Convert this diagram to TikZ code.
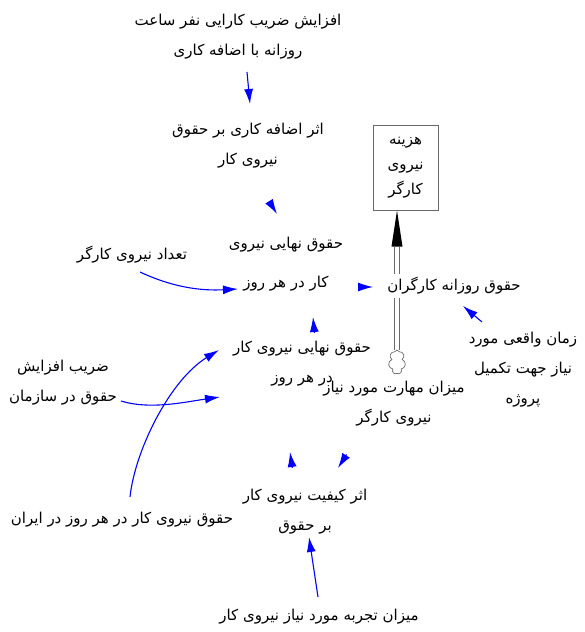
\documentclass[tikz,border=0pt]{standalone}
\usepackage{fontspec}
\newfontfamily\arabicfont[Script=Arabic]{DejaVu Sans}
\TeXXeTstate=1
\usetikzlibrary{arrows.meta,calc,shapes.symbols}
\newcommand\rl[1]{\beginR #1\endR}
\definecolor{vblue}{RGB}{0,0,255}
\definecolor{pipegray}{RGB}{105,105,105}
\begin{document}
\begin{tikzpicture}[x=1pt,y=1pt,
  lbl/.style={font={\arabicfont\fontsize{15}{30}\selectfont}, align=center, inner sep=1pt},
  lblwide/.style={font={\arabicfont\fontsize{15}{39}\selectfont}, align=center, inner sep=1pt},
  lblbox/.style={font={\arabicfont\fontsize{15}{25}\selectfont}, align=center, inner sep=1pt},
  bl/.style={draw=vblue, line width=1.1pt, -{Latex[length=15pt,width=9pt]}},
  stockbox/.style={draw=pipegray, line width=1pt, minimum width=65pt, minimum height=85pt, inner sep=0pt},
  pipeline/.style={draw=pipegray, line width=0.8pt},
  cloudsrc/.style={cloud, draw=pipegray, cloud puffs=7, aspect=0.75, minimum width=17pt, minimum height=24pt, inner sep=0pt, line width=0.7pt}
]
\useasboundingbox (0,0) rectangle (584,-632);

% variables
\node[lbl] (top) at (238,-37) {\rl{افزایش ضریب کارایی نفر ساعت}\\\rl{روزانه با اضافه کاری}};
\node[lbl] (ovt) at (248,-146) {\rl{اثر اضافه کاری بر حقوق}\\\rl{نیروی کار}};
\node[lblwide] (final1) at (286,-264) {\rl{حقوق نهایی نیروی}\\\rl{کار در هر روز}};
\node[lbl] (count) at (132,-255) {\rl{تعداد نیروی کارگر}};
\node[stockbox, lblbox] (box) at (405.5,-167.5) {\rl{هزینه}\\\rl{نیروی}\\\rl{کارگر}};
\node[cloudsrc] (cloud) at (397,-362) {};

% flow pipe
\coordinate (pipetop) at (cloud.north |- box.south);
\coordinate (pipebase) at ($(pipetop)+(0,-36)$);
\draw[pipeline] ([xshift=-2.3pt]cloud.north) -- ([xshift=-2.3pt]pipebase);
\draw[pipeline] ([xshift=2.3pt]cloud.north) -- ([xshift=2.3pt]pipebase);
\fill[black] (pipetop) -- ([xshift=-5.5pt]pipebase) -- ([xshift=5.5pt]pipebase) -- cycle;
\node[lbl, fill=white, inner ysep=3pt] (flowlbl) at (454,-286) {\rl{حقوق روزانه کارگران}};

\node[lbl] (time) at (523,-370) {\rl{زمان واقعی مورد}\\\rl{نیاز جهت تکمیل}\\\rl{پروژه}};
\node[lbl] (final2) at (302,-364) {\rl{حقوق نهایی نیروی کار}\\\rl{در هر روز}};
\node[lbl] (coef) at (63,-383) {\rl{ضریب افزایش}\\\rl{حقوق در سازمان}};
\node[lbl] (skill) at (394,-404) {\rl{میزان مهارت مورد نیاز}\\\rl{نیروی کارگر}};
\node[lbl] (iran) at (122,-520) {\rl{حقوق نیروی کار در هر روز در ایران}};
\node[lbl] (quality) at (305,-512) {\rl{اثر کیفیت نیروی کار}\\\rl{بر حقوق}};
\node[lbl] (exp) at (319,-617) {\rl{میزان تجربه مورد نیاز نیروی کار}};

% connector ends (ports next to the variables)
\coordinate (topP) at (247,-72);   \coordinate (ovtIn) at (250,-104);
\coordinate (ovtP) at (264,-193);  \coordinate (f1InA) at (277,-214);
\coordinate (countP) at (140,-272); \coordinate (f1InB) at (238,-289);
\coordinate (f1P) at (340,-287);   \coordinate (flowIn) at (373,-287);
\coordinate (timeP) at (482,-322); \coordinate (flowInB) at (463,-306);
\coordinate (f2P) at (315,-340);   \coordinate (f1InC) at (313,-317);
\coordinate (coefP) at (121,-401); \coordinate (f2InA) at (220,-397);
\coordinate (iranP) at (130,-497); \coordinate (f2InB) at (219,-350);
\coordinate (qP) at (294,-480);    \coordinate (f2InC) at (290,-452);
\coordinate (skillP) at (352,-446); \coordinate (qInA) at (338,-468);
\coordinate (expP) at (318,-597);  \coordinate (qInB) at (309,-537);

% connectors
\draw[bl] (topP) -- (ovtIn);
\draw[bl] ($(f1InA)!15pt!(ovtP)$) -- (f1InA);
\draw[bl] (countP) .. controls (172,-287) and (200,-291) .. (f1InB);
\draw[bl] ($(flowIn)!15pt!(f1P)$) -- (flowIn);
\draw[bl] (timeP) -- (flowInB);
\draw[bl] ($(f1InC)!16pt!(f2P)$) -- (f1InC);
\draw[bl] (coefP) .. controls (150,-410) and (185,-402) .. (f2InA);
\draw[bl] (iranP) .. controls (135,-450) and (170,-380) .. (f2InB);
\draw[bl] ($(f2InC)!16pt!(qP)$) -- (f2InC);
\draw[bl] ($(qInA)!16pt!(skillP)$) -- (qInA);
\draw[bl] (expP) -- (qInB);
\end{tikzpicture}
\end{document}
